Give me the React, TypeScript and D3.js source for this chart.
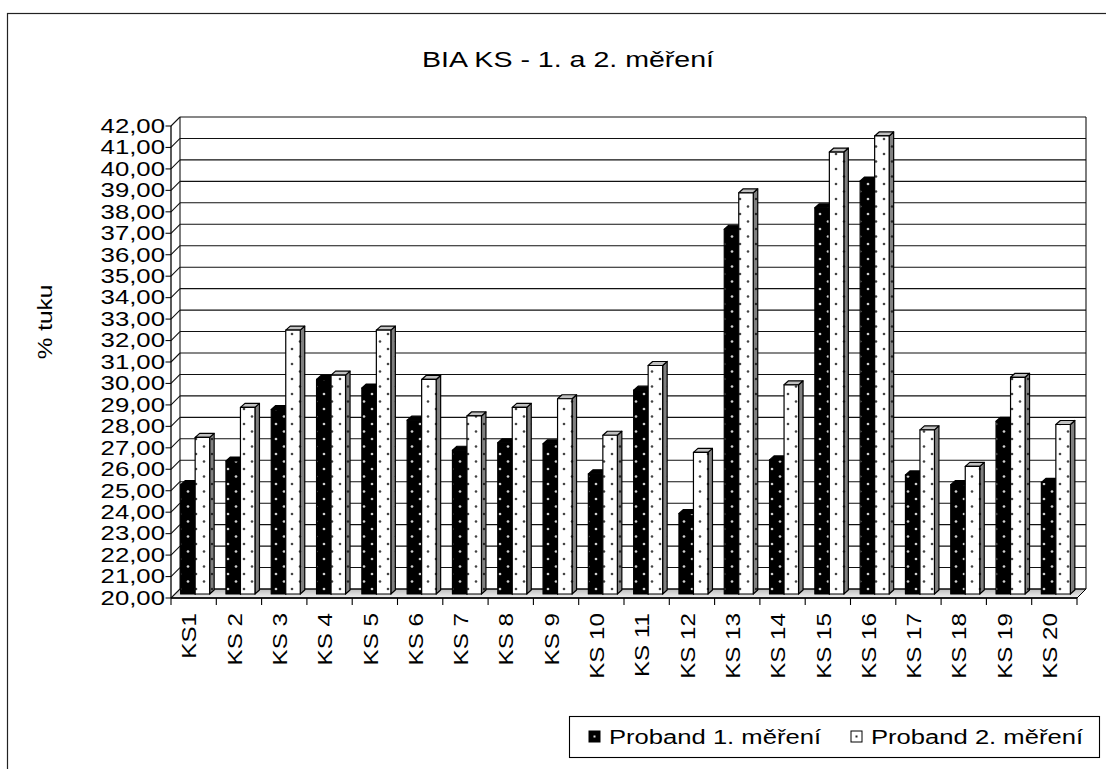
import React from 'react';
import * as d3 from 'd3';

// Body fat (%) of 20 subjects, first and second BIA measurement
const categories = [
  'KS1', 'KS 2', 'KS 3', 'KS 4', 'KS 5', 'KS 6', 'KS 7', 'KS 8', 'KS 9', 'KS 10',
  'KS 11', 'KS 12', 'KS 13', 'KS 14', 'KS 15', 'KS 16', 'KS 17', 'KS 18', 'KS 19', 'KS 20',
];
const measurement1 = [
  25.1, 26.2, 28.6, 30.0, 29.6, 28.1, 26.7, 27.05, 27.0, 25.6,
  29.5, 23.75, 37.0, 26.25, 38.0, 39.25, 25.55, 25.1, 28.05, 25.2,
];
const measurement2 = [
  27.3, 28.7, 32.3, 30.2, 32.3, 30.0, 28.3, 28.7, 29.1, 27.4,
  30.65, 26.6, 38.7, 29.75, 40.6, 41.35, 27.65, 25.95, 30.1, 27.9,
];
const seriesNames = ['Proband 1. měření', 'Proband 2. měření'];
const yTicks = d3.range(20, 43, 1);
const title = 'BIA KS - 1. a 2. měření';
const yTitle = '% tuku';

const W = 1106;
const H = 769;
const FONT = '"Liberation Sans", Arial, Helvetica, sans-serif';

// plot frame (front plane) and the depth of the 3D box
const left = 171;
const right = 1077;
const top = 126;
const bottom = 598;
const DX = 9;
const DY = -9;

// bar geometry inside the box
const BAR_W = 14.5;
const BAR_DX = 4.5;
const BAR_DY = -4;
const BAR_SHIFT_X = 1.5;
const BAR_SHIFT_Y = -4;

const fmt = (v: number) => v.toFixed(2).replace('.', ',');

type Face = { front: string; top: string; side: string };

function Bar3D({ x, yTop, yBot, face }: { x: number; yTop: number; yBot: number; face: Face }) {
  const w = BAR_W;
  const frontPts = `${x},${yTop} ${x + w},${yTop} ${x + w},${yBot} ${x},${yBot}`;
  const topPts = `${x},${yTop} ${x + BAR_DX},${yTop + BAR_DY} ${x + w + BAR_DX},${yTop + BAR_DY} ${x + w},${yTop}`;
  const sidePts = `${x + w},${yTop} ${x + w + BAR_DX},${yTop + BAR_DY} ${x + w + BAR_DX},${yBot + BAR_DY} ${x + w},${yBot}`;
  const st = { stroke: '#000', strokeWidth: 1.2, strokeLinejoin: 'round' as const };
  return (
    <g>
      <polygon points={sidePts} fill={face.side} {...st} />
      <polygon points={topPts} fill={face.top} {...st} />
      <polygon points={frontPts} fill={face.front} {...st} />
    </g>
  );
}

export default function App() {
  const x = d3.scaleBand<string>().domain(categories).range([left, right]).padding(0);
  const y = d3.scaleLinear().domain([20, 42]).range([bottom, top]);
  const bw = x.bandwidth();

  const faces: Face[] = [
    { front: 'url(#dotsBlack)', top: '#000', side: 'url(#dotsBlack)' },
    { front: 'url(#dotsWhite)', top: '#c0c0c0', side: 'url(#dotsGray)' },
  ];
  const series = [measurement1, measurement2];

  const barBase = y(20) + BAR_SHIFT_Y;

  return (
    <svg
      width={W}
      height={H}
      viewBox={`0 0 ${W} ${H}`}
      style={{ position: 'absolute', left: 0, top: 0, background: '#fff', fontFamily: FONT }}
    >
      <defs>
        <pattern id="dotsBlack" patternUnits="userSpaceOnUse" width={16} height={15}>
          <rect width={16} height={15} fill="#000" />
          <circle cx={4} cy={4} r={1.35} fill="#cfcfcf" />
          <circle cx={12} cy={11.5} r={1.35} fill="#cfcfcf" />
        </pattern>
        <pattern id="dotsWhite" patternUnits="userSpaceOnUse" width={16} height={15}>
          <rect width={16} height={15} fill="#fff" />
          <circle cx={4} cy={4} r={1.3} fill="#444" />
          <circle cx={12} cy={11.5} r={1.3} fill="#444" />
        </pattern>
        <pattern id="dotsGray" patternUnits="userSpaceOnUse" width={16} height={15}>
          <rect width={16} height={15} fill="#808080" />
          <circle cx={4} cy={4} r={1.2} fill="#222" />
          <circle cx={12} cy={11.5} r={1.2} fill="#222" />
        </pattern>
        <linearGradient id="floorGrad" x1="0" y1="0" x2="0" y2="1">
          <stop offset="0" stopColor="#bcbcbc" />
          <stop offset="1" stopColor="#f2f2f2" />
        </linearGradient>
      </defs>

      {/* chart area border */}
      <rect x={7.5} y={13.5} width={1200} height={900} fill="none" stroke="#222" strokeWidth={1.2} />

      {/* title */}
      <text
        transform={`translate(568,67) scale(1.27,1)`}
        textAnchor="middle"
        fontSize={22.5}
        fill="#000"
      >
        {title}
      </text>

      {/* floor */}
      <polygon
        points={`${left},${bottom} ${right},${bottom} ${right + DX},${bottom + DY} ${left + DX},${bottom + DY}`}
        fill="url(#floorGrad)"
        stroke="#000"
        strokeWidth={1}
      />

      {/* back wall gridlines and side wall diagonals */}
      {yTicks.map((v) => (
        <g key={`g${v}`}>
          <line x1={left + DX} x2={right + DX} y1={y(v) + DY} y2={y(v) + DY} stroke="#111" strokeWidth={1.1} />
          <line x1={left} x2={left + DX} y1={y(v)} y2={y(v) + DY} stroke="#111" strokeWidth={1.1} />
          <line x1={left - 5.5} x2={left} y1={y(v)} y2={y(v)} stroke="#111" strokeWidth={1.1} />
        </g>
      ))}

      {/* wall edges */}
      <line x1={left + DX} x2={left + DX} y1={top + DY} y2={bottom + DY} stroke="#111" strokeWidth={1.1} />
      <line x1={right + DX} x2={right + DX} y1={top + DY} y2={bottom + DY} stroke="#111" strokeWidth={1.1} />
      <line x1={left} x2={left} y1={top} y2={bottom} stroke="#000" strokeWidth={1.3} />

      {/* bars */}
      {categories.map((c, i) => {
        const center = (x(c) as number) + bw / 2 + BAR_SHIFT_X;
        return (
          <g key={c}>
            {series.map((vals, s) => {
              const bx = center - BAR_W + s * BAR_W;
              return (
                <Bar3D
                  key={s}
                  x={bx}
                  yTop={y(vals[i]) + BAR_SHIFT_Y}
                  yBot={barBase}
                  face={faces[s]}
                />
              );
            })}
          </g>
        );
      })}

      {/* category axis */}
      <line x1={left} x2={right} y1={bottom} y2={bottom} stroke="#000" strokeWidth={1.3} />
      {d3.range(categories.length + 1).map((i) => (
        <line key={`t${i}`} x1={left + i * bw} x2={left + i * bw} y1={bottom} y2={bottom + 7} stroke="#000" strokeWidth={1.1} />
      ))}
      {categories.map((c) => (
        <text
          key={`l${c}`}
          transform={`translate(${(x(c) as number) + bw / 2 - 4},613) rotate(-90) scale(1.24,1)`}
          textAnchor="end"
          dominantBaseline="central"
          fontSize={19.5}
          fill="#000"
        >
          {c}
        </text>
      ))}

      {/* value axis labels */}
      {yTicks.map((v) => (
        <text
          key={`y${v}`}
          transform={`translate(165,${y(v)}) scale(1.32,1)`}
          textAnchor="end"
          dominantBaseline="central"
          fontSize={19.5}
          fill="#000"
        >
          {fmt(v)}
        </text>
      ))}

      {/* value axis title */}
      <text
        transform={`translate(45,322) rotate(-90) scale(1.22,1)`}
        textAnchor="middle"
        dominantBaseline="central"
        fontSize={20}
        fill="#000"
      >
        {yTitle}
      </text>

      {/* legend */}
      <rect x={569.5} y={716.5} width={530} height={41} fill="#fff" stroke="#000" strokeWidth={1.1} />
      {seriesNames.map((name, s) => {
        const mx = s === 0 ? 589 : 851;
        return (
          <g key={name}>
            <rect x={mx} y={731} width={11} height={11} fill={s === 0 ? '#000' : '#fff'} stroke="#000" strokeWidth={1} />
            <rect x={mx + 4.5} y={735.5} width={2} height={2} fill={s === 0 ? '#ddd' : '#222'} />
            <text
              transform={`translate(${mx + 20},737) scale(1.28,1)`}
              dominantBaseline="central"
              fontSize={20}
              fill="#000"
            >
              {name}
            </text>
          </g>
        );
      })}
    </svg>
  );
}
